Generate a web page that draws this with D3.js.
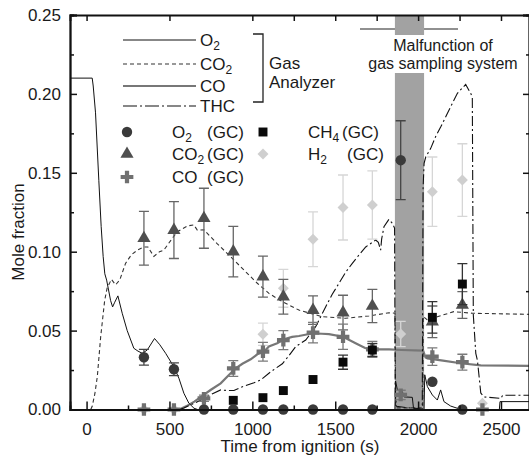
<!DOCTYPE html>
<html>
<head>
<meta charset="utf-8">
<script src="https://cdn.jsdelivr.net/npm/d3@7"></script>
<style>
body { margin: 0; background: #fff; }
text { font-family: "Liberation Sans", Arial, sans-serif; font-size: 17px; fill: #1a1a1a; }
</style>
</head>
<body>
<div id="plot"></div>
<script>
// gas analyzer traces [time (s), mole fraction]
const o2Line = [[-100,0.21],[34,0.21],[40,0.205],[54,0.188],[74,0.145],[88,0.116],[100,0.097],[110,0.086],[121,0.082],[145,0.069],[157,0.065],[170,0.068],[189,0.072],[215,0.061],[245,0.050],[285,0.0388],[310,0.037],[336,0.0356],[366,0.0377],[410,0.045],[442,0.041],[477,0.0356],[527,0.027],[557,0.0198],[587,0.0103],[617,0.004],[648,0.0008],[670,0],[1860,0],[1864,0.018],[1875,0.0124],[1905,0.0113],[1915,0.008],[1965,0.0077],[1972,0.001],[2036,0],[2040,0.022],[2056,0.0145],[2086,0.0092],[2116,0.006],[2136,0.0124],[2156,0.005],[2196,0.0022],[2236,0.0008],[2260,0],[2490,0],[2494,0.005],[2675,0.005]];
const co2Line = [[-100,0],[25,0],[34,0.002],[50,0.01],[65,0.021],[85,0.046],[109,0.069],[124,0.077],[150,0.0825],[175,0.079],[200,0.082],[235,0.0926],[270,0.098],[306,0.101],[346,0.103],[370,0.103],[406,0.097],[440,0.1],[466,0.101],[500,0.106],[547,0.1127],[608,0.1163],[647,0.117],[668,0.1137],[708,0.1138],[789,0.105],[869,0.0968],[949,0.0884],[1030,0.08],[1100,0.0736],[1181,0.0683],[1281,0.063],[1422,0.0588],[1563,0.0578],[1704,0.0593],[1824,0.0613],[1861,0.061],[1864,0.001],[2028,0.001],[2031,0.059],[2056,0.0567],[2116,0.0588],[2215,0.062],[2327,0.061],[2675,0.0603]];
const coLine = [[560,0],[600,0.002],[650,0.005],[698,0.0086],[750,0.0125],[809,0.0166],[860,0.022],[899,0.026],[940,0.029],[990,0.0318],[1030,0.035],[1070,0.0366],[1100,0.04],[1150,0.042],[1191,0.0445],[1240,0.046],[1281,0.0466],[1366,0.0483],[1420,0.048],[1462,0.0478],[1547,0.0461],[1623,0.042],[1680,0.039],[1724,0.0381],[1825,0.0381],[1900,0.0377],[2030,0.0373],[2045,0.033],[2056,0.0324],[2150,0.031],[2257,0.0293],[2378,0.028],[2675,0.0276]];
const thcLine = [[560,0],[587,0.001],[650,0.004],[708,0.007],[760,0.01],[809,0.0124],[850,0.012],[889,0.012],[930,0.014],[970,0.0155],[1010,0.017],[1050,0.0187],[1100,0.023],[1140,0.026],[1181,0.029],[1220,0.034],[1261,0.0398],[1322,0.044],[1382,0.0525],[1442,0.065],[1482,0.073],[1523,0.08],[1563,0.087],[1603,0.0926],[1644,0.098],[1684,0.103],[1744,0.1074],[1760,0.106],[1774,0.101],[1780,0.108],[1794,0.1158],[1824,0.1205],[1845,0.118],[1858,0.115],[1862,0.01],[1870,0.002],[2025,0],[2030,0.14],[2036,0.156],[2046,0.16],[2076,0.1655],[2106,0.173],[2136,0.179],[2177,0.1877],[2237,0.2004],[2287,0.206],[2317,0.2004],[2327,0.198],[2333,0.06],[2348,0.0356],[2358,0.031],[2378,0.0105],[2396,0.008],[2499,0.007],[2510,0.009],[2675,0.009]];

// GC samples
const sampleTimes = [346, 527, 708, 885, 1064, 1187, 1366, 1547, 1724, 1895, 2086, 2267, 2388];
const o2GC   = [0.0331, 0.0255, 0, 0, 0, 0, 0, 0, 0, 0.158, 0.0176, 0, null];
const o2Err  = [0.005, 0.004, 0, 0, 0, 0, 0, 0, 0, 0.025, 0, 0, null];
const co2GC  = [0.1085, 0.1137, 0.1212, 0.100, 0.0842, 0.0715, 0.063, 0.0614, 0.0656, null, 0.0556, 0.0662, null];
const co2Err = [0.017, 0.018, 0.019, 0.016, 0.013, 0.011, 0.009, 0.011, 0.0105, null, 0.010, 0.0085, null];
const coGC   = [0, 0, 0.0071, 0.026, 0.0366, 0.044, 0.0487, 0.0461, 0.0381, 0.0092, 0.0335, 0.030, 0];
const coErr  = [0, 0, 0.002, 0.005, 0.006, 0.006, 0.0065, 0.008, 0.005, 0.003, 0.0055, 0.005, 0];
const ch4GC  = [null, null, null, 0.0058, 0.0075, 0.012, 0.019, 0.030, 0.0377, null, 0.0584, 0.0795, null];
const ch4Err = [null, null, null, 0, 0, 0, 0, 0.0045, 0.004, null, 0.010, 0.013, null];
const h2GC   = [0, 0, null, null, 0.0477, 0.0768, 0.1079, 0.128, 0.1296, 0.0478, 0.138, 0.1454, 0.004];
const h2Err  = [0, 0, null, null, 0.007, 0.012, 0.0173, 0.0206, 0.0216, 0.008, 0.022, 0.023, 0];

const malfunction = [1860, 2036];
const xTicks = [0, 500, 1000, 1500, 2000, 2500];
const yTicks = [0, 0.05, 0.10, 0.15, 0.20, 0.25];

const width = 529, height = 458;
const svg = d3.select("#plot").append("svg")
	.attr("width", width).attr("height", height);

const x = d3.scaleLinear().domain([-100, 2675]).range([70, 530]);
const y = d3.scaleLinear().domain([0, 0.25]).range([409.5, 15]);

svg.append("clipPath").attr("id", "clip")
	.append("rect").attr("x", 70).attr("y", 15).attr("width", 460).attr("height", 394.5);

// annotation line above band
svg.append("line")
	.attr("x1", 360).attr("x2", 458).attr("y1", 29).attr("y2", 29)
	.attr("stroke", "#222").attr("stroke-width", 1.2);

// malfunction band
svg.append("rect")
	.attr("x", x(malfunction[0])).attr("width", x(malfunction[1]) - x(malfunction[0]))
	.attr("y", y(0.25)).attr("height", y(0) - y(0.25))
	.attr("fill", "#a2a2a2");
svg.append("rect")
	.attr("x", x(malfunction[0]) - 1).attr("width", x(malfunction[1]) - x(malfunction[0]) + 2)
	.attr("y", 35).attr("height", 38)
	.attr("fill", "#fff");
svg.append("text").attr("x", 443).attr("y", 51).attr("text-anchor", "middle")
	.style("font-size", "16px").text("Malfunction of");
svg.append("text").attr("x", 443).attr("y", 69).attr("text-anchor", "middle")
	.style("font-size", "16px").text("gas sampling system");

// traces
const line = d3.line().x(d => x(d[0])).y(d => y(d[1]));
const traces = svg.append("g").attr("clip-path", "url(#clip)");
traces.append("path").datum(coLine).attr("d", line)
	.attr("fill", "none").attr("stroke", "#777").attr("stroke-width", 2.2);
traces.append("path").datum(co2Line).attr("d", line)
	.attr("fill", "none").attr("stroke", "#333").attr("stroke-width", 1.1).attr("stroke-dasharray", "4,3");
traces.append("path").datum(thcLine).attr("d", line)
	.attr("fill", "none").attr("stroke", "#111").attr("stroke-width", 1.1).attr("stroke-dasharray", "10,3,2,3");
traces.append("path").datum(o2Line).attr("d", line)
	.attr("fill", "none").attr("stroke", "#111").attr("stroke-width", 1);

// GC points with error bars
function drawGC(vals, errs, type, size, fill, errColor, rot) {
	var pts = sampleTimes.map((t, i) => ({t: t, v: vals[i], e: errs[i]})).filter(d => d.v !== null);
	var g = svg.append("g");
	var eb = pts.filter(d => d.e > 0);
	g.selectAll(".eb").data(eb).enter().append("path")
		.attr("d", d => {
			var cx = x(d.t), y1 = y(d.v + d.e), y2 = y(d.v - d.e);
			return "M" + cx + "," + y1 + "V" + y2 + "M" + (cx - 5) + "," + y1 + "H" + (cx + 5) + "M" + (cx - 5) + "," + y2 + "H" + (cx + 5);
		})
		.attr("fill", "none").attr("stroke", errColor).attr("stroke-width", 1.3);
	g.selectAll(".pt").data(pts).enter().append("path")
		.attr("d", d3.symbol().type(type).size(size))
		.attr("transform", d => "translate(" + x(d.t) + "," + y(d.v) + ")" + (rot ? " rotate(45)" : ""))
		.attr("fill", fill);
}
drawGC(h2GC, h2Err, d3.symbolSquare, 60, "#cfcfcf", "#d6d6d6", true);
drawGC(co2GC, co2Err, d3.symbolTriangle, 75, "#4f4f4f", "#666", false);
drawGC(coGC, coErr, d3.symbolCross, 90, "#707070", "#7a7a7a", false);
drawGC(ch4GC, ch4Err, d3.symbolSquare, 80, "#0a0a0a", "#333", false);
drawGC(o2GC, o2Err, d3.symbolCircle, 85, "#3a3a3a", "#444", false);

// axes
svg.append("g").attr("transform", "translate(0," + y(0) + ")")
	.call(d3.axisBottom(x).tickValues(xTicks).tickSize(-8).tickPadding(13).tickFormat(d3.format("d")));
svg.append("g").attr("transform", "translate(0," + y(0) + ")")
	.call(d3.axisBottom(x).tickValues([250, 750, 1250, 1750, 2250]).tickSize(-4).tickFormat(""));
svg.append("g").attr("transform", "translate(0," + y(0.25) + ")")
	.call(d3.axisTop(x).tickValues([0, 500, 1000, 1250, 1500, 1750, 2000, 2250, 2500]).tickSize(-6).tickFormat(""));
svg.append("g").attr("transform", "translate(" + x(-100) + ",0)")
	.call(d3.axisLeft(y).tickValues(yTicks).tickSize(-7).tickPadding(9).tickFormat(d3.format(".2f")));
svg.append("g").attr("transform", "translate(" + x(-100) + ",0)")
	.call(d3.axisLeft(y).tickValues([0.025, 0.075, 0.125, 0.175, 0.225]).tickSize(-4).tickFormat(""));
svg.append("g").attr("transform", "translate(529,0)")
	.call(d3.axisRight(y).tickValues(yTicks).tickSize(-6).tickFormat(""));
svg.append("g").attr("transform", "translate(529,0)")
	.call(d3.axisRight(y).tickValues([0.025, 0.075, 0.125, 0.175, 0.225]).tickSize(-3).tickFormat(""));
svg.selectAll(".domain").attr("stroke", "#111").attr("stroke-width", 1.8);
svg.selectAll(".tick line").attr("stroke", "#111").attr("stroke-width", 1.5);
svg.selectAll(".tick text").style("font-family", "Liberation Sans, Arial, sans-serif").style("font-size", "17px").attr("fill", "#1a1a1a");

svg.append("text").attr("x", 300).attr("y", 452).attr("text-anchor", "middle").text("Time from ignition (s)");
svg.append("text").attr("transform", "rotate(-90)").attr("x", -232).attr("y", 23.5)
	.attr("text-anchor", "middle").text("Mole fraction");

// legend: analyzer lines
const lineLegend = [
	{name: "O", sub: "2", y: 40, stroke: "#111", w: 1, dash: null},
	{name: "CO", sub: "2", y: 64, stroke: "#333", w: 1.1, dash: "4,3"},
	{name: "CO", sub: "", y: 86, stroke: "#777", w: 2.2, dash: null},
	{name: "THC", sub: "", y: 106, stroke: "#111", w: 1.1, dash: "14,3,2,3"}
];
lineLegend.forEach(d => {
	svg.append("line").attr("x1", 123).attr("x2", 196).attr("y1", d.y).attr("y2", d.y)
		.attr("stroke", d.stroke).attr("stroke-width", d.w).attr("stroke-dasharray", d.dash);
	var t = svg.append("text").attr("x", 200).attr("y", d.y + 6).text(d.name);
	if (d.sub) t.append("tspan").attr("dy", 4).style("font-size", "12px").text(d.sub);
});
svg.append("path").attr("d", "M253,34H263V102H253").attr("fill", "none").attr("stroke", "#222").attr("stroke-width", 1.3);
svg.append("text").attr("x", 269).attr("y", 69).text("Gas");
svg.append("text").attr("x", 269).attr("y", 88).text("Analyzer");

// legend: GC markers
const gcLegend = [
	{type: d3.symbolCircle, size: 85, fill: "#3a3a3a", x: 127, y: 132, name: "O", sub: "2", gcX: 207, rot: false},
	{type: d3.symbolTriangle, size: 75, fill: "#4f4f4f", x: 127, y: 154, name: "CO", sub: "2", gcX: 207, rot: false},
	{type: d3.symbolCross, size: 90, fill: "#707070", x: 127, y: 177, name: "CO", sub: "", gcX: 207, rot: false},
	{type: d3.symbolSquare, size: 80, fill: "#0a0a0a", x: 263, y: 132, name: "CH", sub: "4", gcX: 342, rot: false},
	{type: d3.symbolSquare, size: 60, fill: "#cfcfcf", x: 263, y: 154, name: "H", sub: "2", gcX: 347, rot: true}
];
gcLegend.forEach(d => {
	svg.append("path").attr("d", d3.symbol().type(d.type).size(d.size))
		.attr("transform", "translate(" + d.x + "," + d.y + ")" + (d.rot ? " rotate(45)" : ""))
		.attr("fill", d.fill);
	var tx = d.x < 200 ? 172 : 308;
	var t = svg.append("text").attr("x", tx).attr("y", d.y + 6).text(d.name);
	if (d.sub) t.append("tspan").attr("dy", 4).style("font-size", "12px").text(d.sub);
	svg.append("text").attr("x", d.gcX).attr("y", d.y + 6).text("(GC)");
});
</script>
</body>
</html>
